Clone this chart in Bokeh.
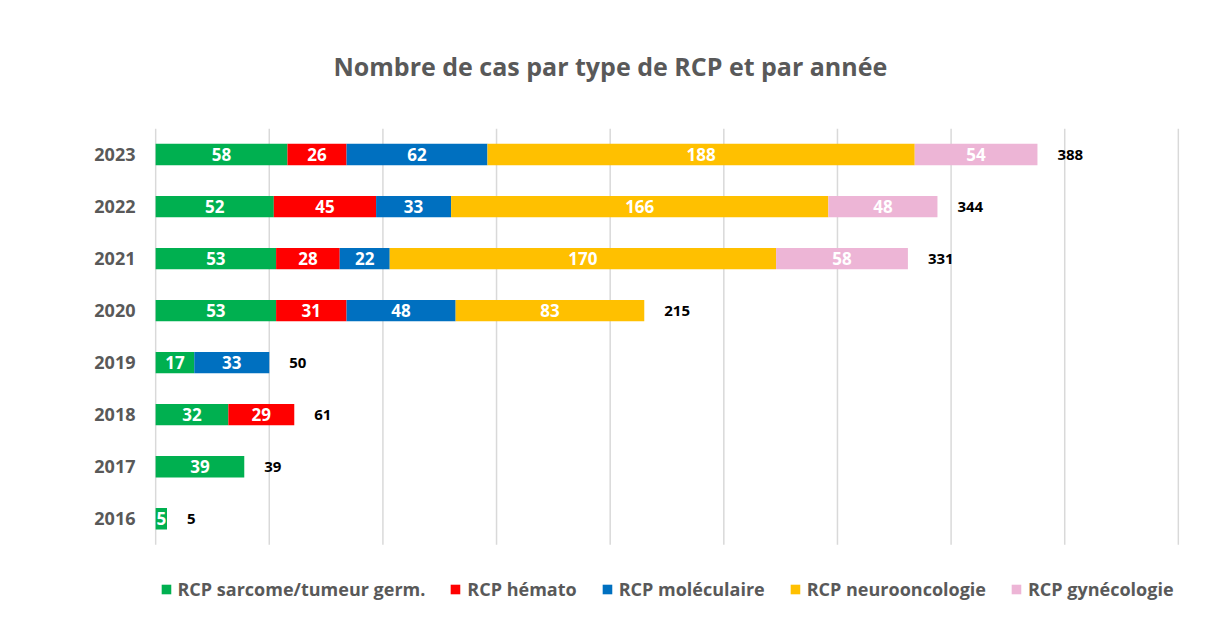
from bokeh.plotting import figure
from bokeh.models import (Range1d, ColumnDataSource, Legend, LegendItem, FixedTicker)
from bokeh.core.properties import value
from bokeh.embed import file_html
from bokeh.resources import INLINE

years = ["2016", "2017", "2018", "2019", "2020", "2021", "2022", "2023"]
series_names = ["RCP sarcome/tumeur germ.", "RCP hémato", "RCP moléculaire",
                "RCP neurooncologie", "RCP gynécologie"]
sarcome = [5, 39, 32, 17, 53, 53, 52, 58]
hemato = [0, 0, 29, 0, 31, 28, 45, 26]
moleculaire = [0, 0, 0, 33, 48, 22, 33, 62]
neuro = [0, 0, 0, 0, 83, 170, 166, 188]
gyneco = [0, 0, 0, 0, 0, 58, 48, 54]
colors = ["#00B050", "#FF0000", "#0070C0", "#FFC000", "#EDB5D6"]
grid_ticks = [0, 50, 100, 150, 200, 250, 300, 350, 400, 450]
title_text = "Nombre de cas par type de RCP et par année"

FONT = "Open Sans"
GRAY = "#595959"
W = 1190

keys = ["s0", "s1", "s2", "s3", "s4"]
series = [sarcome, hemato, moleculaire, neuro, gyneco]
ypos = list(range(len(years)))
data = {"ypos": ypos}
for k, s in zip(keys, series):
    data[k] = s
source = ColumnDataSource(data)

p = figure(width=W, height=601, title=title_text,
           x_range=Range1d(-0.5, 450.5), y_range=Range1d(-1.59, 7.5),
           x_axis_location=None, output_backend="svg", toolbar_location=None,
           min_border_left=154, min_border_right=11, min_border_top=127,
           min_border_bottom=0)

# vertical grid lines limited to the bar area
p.segment(x0=grid_ticks, y0=[-0.5] * len(grid_ticks), x1=grid_ticks,
          y1=[len(years) - 0.5] * len(grid_ticks), line_color="#D9D9D9", line_width=1.5)

rs = p.hbar_stack(keys, y="ypos", height=0.41, color=colors, source=source,
                  line_color=None)

# segment labels
lx, ly, lt = [], [], []
for i in ypos:
    cum = 0
    for s in series:
        v = s[i]
        if v > 0:
            lx.append(cum + v / 2)
            ly.append(i)
            lt.append(str(v))
        cum += v
p.text(x=lx, y=ly, text=lt, text_align="center", text_baseline="middle",
       text_color="white", text_font=value(FONT), text_font_style="bold",
       text_font_size="17px")

totals = [sum(s[i] for s in series) for i in ypos]
p.text(x=totals, y=ypos, text=[str(t) for t in totals], text_align="left",
       text_baseline="middle", x_offset=20, text_color="black",
       text_font=value(FONT), text_font_style="bold", text_font_size="15px")

p.title.align = "left"
p.title.text_font = FONT
p.title.text_font_size = "25px"
p.title.text_font_style = "bold"
p.title.text_color = GRAY
p.title.offset = 179
p.title.standoff = 92

p.xgrid.grid_line_color = None
p.ygrid.grid_line_color = None
p.yaxis.ticker = FixedTicker(ticks=ypos)
p.yaxis.major_label_overrides = {i: y for i, y in zip(ypos, years)}
p.yaxis.axis_line_color = None
p.yaxis.major_tick_line_color = None
p.yaxis.minor_tick_line_color = None
p.yaxis.major_label_standoff = 13
p.yaxis.major_label_text_font = FONT
p.yaxis.major_label_text_font_style = "bold"
p.yaxis.major_label_text_font_size = "18px"
p.yaxis.major_label_text_color = GRAY
p.outline_line_color = None

legend = Legend(items=[LegendItem(label=n, renderers=[r]) for n, r in zip(series_names, rs)],
                orientation="horizontal", border_line_color=None,
                background_fill_alpha=0, glyph_width=12, glyph_height=12,
                label_text_font=FONT, label_text_font_style="bold",
                label_text_font_size="18px", label_text_color=GRAY,
                spacing=24, label_standoff=6, margin=0, padding=0,
                location="bottom_center")
p.add_layout(legend, "center")

open("out.html", "w").write(file_html(p, INLINE))
